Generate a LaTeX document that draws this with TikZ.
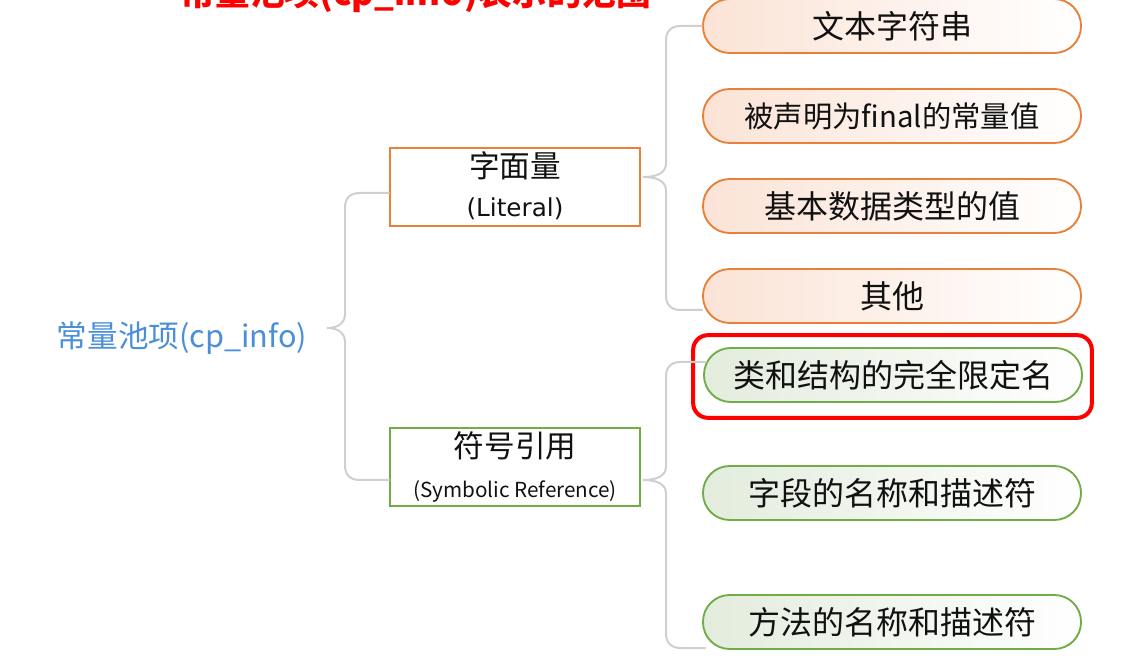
\documentclass[tikz,border=0pt]{standalone}
\usepackage{fontspec}
\setmainfont{Noto Sans CJK SC}
\newfontfamily\latfont{DejaVu Sans}
\usetikzlibrary{calc}
\definecolor{orgline}{HTML}{E8803A}
\definecolor{orgfill}{HTML}{FBE3D6}
\definecolor{grnline}{HTML}{70AD47}
\definecolor{grnfill}{HTML}{E3ECDD}
\definecolor{conngray}{HTML}{CFCFCF}
\definecolor{rootblue}{HTML}{4A8FD8}
\definecolor{txt}{HTML}{111111}
\tikzset{
  conn/.style={draw=conngray, line width=1.5pt, line cap=round},
  pill/.style={rounded corners=20pt, minimum width=283.5pt, minimum height=40.5pt,
    line width=1.4pt, font=\fontsize{24pt}{28pt}\selectfont, text=txt, inner sep=0pt},
  opill/.style={pill, draw=orgline, left color=orgfill, right color=white},
  gpill/.style={pill, draw=grnline, left color=grnfill, right color=white},
  catbox/.style={line width=1.2pt, minimum width=187.5pt, minimum height=58.5pt, inner sep=0pt},
  cattext/.style={font=\fontsize{23pt}{27pt}\selectfont, text=txt, inner sep=0pt},
  subtext/.style={font=\fontsize{15.5pt}{18pt}\selectfont, text=txt, inner sep=0pt}
}
\begin{document}
\begin{tikzpicture}[x=0.75pt,y=-0.75pt]
\useasboundingbox (0,0) rectangle (1136,666);
\clip (0,0) rectangle (1136,666);

% title (cut at the top, as in the reference)
\node[font=\bfseries\fontsize{26pt}{30pt}\selectfont, text=red, anchor=base, inner sep=0pt] (title) at (416,6) {常量池项(cp\_info)表示的范围};

% root
\node[text=rootblue, font=\fontsize{23pt}{28pt}\selectfont, inner sep=0pt] (root) at (182,338) {常量池项(cp\_info)};

% category boxes
\node[catbox, draw=orgline] (lit) at (515,187) {};
\node[cattext] (litA) at (515,166) {字面量};
\node[subtext, font=\latfont\fontsize{18.5pt}{21pt}\selectfont] (litB) at (515,209) {(Literal)};

\node[catbox, draw=grnline] (sym) at (515,467) {};
\node[cattext] (symA) at (515,446) {符号引用};
\node[subtext] (symB) at (515,491) {(Symbolic Reference)};

% literal children
\node[opill] (t1) at (892,26) {文本字符串};
\node[opill, font=\fontsize{22pt}{26pt}\selectfont] (t2) at (892,116) {被声明为final的常量值};
\node[opill] (t3) at (892,206) {基本数据类型的值};
\node[opill] (t4) at (892,296) {其他};

% symbolic children
\node[gpill] (s1) at (893,375) {类和结构的完全限定名};
\node[gpill] (s2) at (892,493) {字段的名称和描述符};
\node[gpill] (s3) at (892,622) {方法的名称和描述符};

% highlight
\node[draw=red, line width=3pt, rounded corners=11pt, minimum width=299pt, minimum height=62pt, inner sep=0pt] (hl) at (892.5,376.5) {};

% brace tips
\coordinate (tipL) at (327,328);
\coordinate (tipA) at (643,177);
\coordinate (tipB) at (643,480);

% left brace
\draw[conn] ($(lit.west)+(0,6)$) -- (360,193) .. controls (350,193) and (345,198) .. (345,208)
  -- (345,314) .. controls (345,323) and (338,328) .. (tipL)
  .. controls (338,328) and (345,333) .. (345,342)
  -- (345,465) .. controls (345,475) and (350,480) .. (360,480) -- ($(sym.west)+(0,13)$);

% literal brace
\draw[conn] (t1.west) -- (681,26) .. controls (671,26) and (666,31) .. (666,41)
  -- (666,163) .. controls (666,172) and (659,177) .. (tipA)
  .. controls (659,177) and (666,182) .. (666,191)
  -- (666,295) .. controls (666,305) and (671,310) .. (681,310) -- ($(t4.west)+(0,14)$);

% symbolic brace
\draw[conn] ($(s1.west)+(3,-13)$) -- (681,362) .. controls (671,362) and (666,367) .. (666,377)
  -- (666,466) .. controls (666,475) and (659,480) .. (tipB)
  .. controls (659,480) and (666,485) .. (666,494)
  -- (666,633) .. controls (666,643) and (671,648) .. (681,648) -- ($(s3.west)+(3,26)$);
\end{tikzpicture}
\end{document}
